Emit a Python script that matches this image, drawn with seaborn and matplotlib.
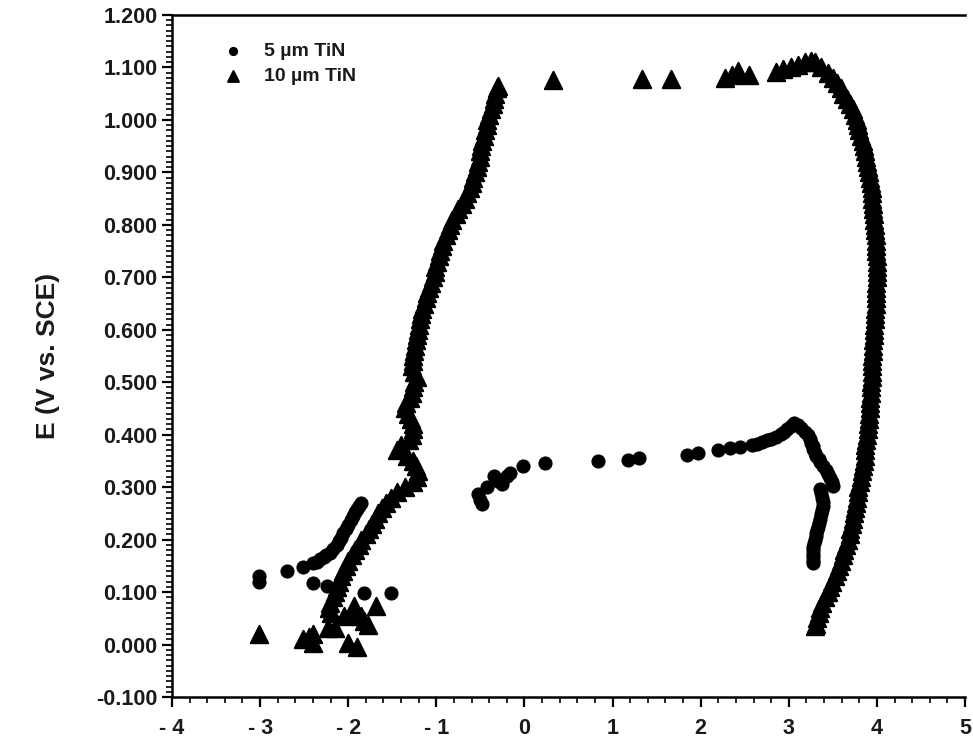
import matplotlib
matplotlib.use("Agg")
import matplotlib.pyplot as plt
from matplotlib.ticker import MultipleLocator, FixedLocator, FixedFormatter
import seaborn as sns
import pandas as pd

# ---------------- data ----------------
# 5 um TiN (filled dots): (log current density, E in V vs SCE)
tin5_points = [
    (-3.01, 0.120), (-3.01, 0.130), (-2.70, 0.141), (-2.51, 0.147),
    (-2.40, 0.155), (-2.36, 0.158), (-2.32, 0.163), (-2.28, 0.166), (-2.25, 0.170), (-2.21, 0.175),
    (-2.17, 0.182), (-2.13, 0.189), (-2.10, 0.197), (-2.08, 0.204), (-2.06, 0.212), (-2.03, 0.220),
    (-2.00, 0.228), (-1.97, 0.237), (-1.95, 0.245), (-1.92, 0.252), (-1.90, 0.258), (-1.88, 0.264),
    (-1.86, 0.270),
    (-2.40, 0.117), (-2.24, 0.111), (-1.82, 0.098), (-1.51, 0.098),
    (-0.53, 0.287), (-0.50, 0.275), (-0.48, 0.268), (-0.42, 0.300), (-0.35, 0.321), (-0.30, 0.312),
    (-0.25, 0.306), (-0.20, 0.322), (-0.16, 0.327), (-0.02, 0.340), (0.23, 0.346), (0.84, 0.350),
    (1.17, 0.352), (1.30, 0.356), (1.84, 0.361), (1.97, 0.365), (2.20, 0.371), (2.33, 0.375),
    (2.45, 0.377), (2.58, 0.380), (2.64, 0.383), (2.70, 0.386), (2.75, 0.389), (2.80, 0.392),
    (2.86, 0.396), (2.91, 0.401), (2.95, 0.406), (2.98, 0.411), (3.02, 0.417), (3.06, 0.423),
    (3.10, 0.418), (3.14, 0.412), (3.18, 0.406), (3.22, 0.400), (3.24, 0.392), (3.25, 0.385),
    (3.27, 0.378), (3.28, 0.372), (3.30, 0.366), (3.31, 0.360), (3.34, 0.353), (3.36, 0.347),
    (3.39, 0.340), (3.42, 0.333), (3.45, 0.325), (3.47, 0.318), (3.49, 0.310), (3.50, 0.302),
    (3.36, 0.296), (3.37, 0.288), (3.38, 0.280), (3.39, 0.272), (3.39, 0.264), (3.38, 0.256),
    (3.37, 0.248), (3.36, 0.240), (3.34, 0.231), (3.33, 0.224), (3.32, 0.218), (3.31, 0.212),
    (3.31, 0.206), (3.30, 0.199), (3.29, 0.193), (3.28, 0.186), (3.28, 0.180), (3.27, 0.173),
    (3.27, 0.166), (3.27, 0.160), (3.27, 0.155),
]

# 10 um TiN (triangles)
tin10_points = [
    # scattered cathodic points
    (-3.01, 0.021), (-2.51, 0.010), (-2.45, 0.015), (-2.40, 0.021), (-2.40, 0.002), (-2.23, 0.031),
    (-2.15, 0.031), (-2.00, 0.002), (-1.90, -0.004), (-1.94, 0.073), (-1.69, 0.073), (-1.78, 0.038),
    (-1.82, 0.045), (-1.86, 0.054), (-1.95, 0.060), (-2.05, 0.055),
    # anodic branch up to breakdown
    (-2.20, 0.06), (-2.22, 0.07), (-2.21, 0.08), (-2.17, 0.09), (-2.15, 0.10), (-2.13, 0.11),
    (-2.11, 0.12), (-2.08, 0.13), (-2.06, 0.14), (-2.03, 0.15), (-2.00, 0.16), (-1.96, 0.17),
    (-1.92, 0.18), (-1.88, 0.19), (-1.85, 0.20), (-1.80, 0.21), (-1.76, 0.22), (-1.73, 0.23),
    (-1.70, 0.24), (-1.66, 0.25), (-1.62, 0.26), (-1.57, 0.27), (-1.52, 0.28), (-1.45, 0.29),
    (-1.36, 0.30), (-1.27, 0.31), (-1.22, 0.32), (-1.21, 0.33), (-1.23, 0.34), (-1.26, 0.35),
    (-1.33, 0.36), (-1.45, 0.37), (-1.40, 0.38), (-1.31, 0.39), (-1.28, 0.40), (-1.27, 0.41),
    (-1.26, 0.42), (-1.29, 0.43), (-1.32, 0.44), (-1.36, 0.45), (-1.34, 0.46), (-1.30, 0.47),
    (-1.28, 0.48), (-1.27, 0.49), (-1.25, 0.50), (-1.22, 0.51), (-1.25, 0.52), (-1.28, 0.53),
    (-1.27, 0.54), (-1.26, 0.55), (-1.25, 0.56), (-1.24, 0.57), (-1.23, 0.58), (-1.22, 0.59),
    (-1.21, 0.60), (-1.20, 0.61), (-1.19, 0.62), (-1.17, 0.63), (-1.16, 0.64), (-1.14, 0.65),
    (-1.12, 0.66), (-1.11, 0.67), (-1.08, 0.68), (-1.06, 0.69), (-1.04, 0.70), (-1.02, 0.71),
    (-1.01, 0.72), (-0.99, 0.73), (-0.97, 0.74), (-0.96, 0.75), (-0.94, 0.76), (-0.92, 0.77),
    (-0.89, 0.78), (-0.87, 0.79), (-0.84, 0.80), (-0.82, 0.81), (-0.78, 0.82), (-0.75, 0.83),
    (-0.71, 0.84), (-0.68, 0.85), (-0.65, 0.86), (-0.62, 0.87), (-0.60, 0.88), (-0.58, 0.89),
    (-0.56, 0.90), (-0.54, 0.91), (-0.53, 0.92), (-0.51, 0.93), (-0.50, 0.94), (-0.49, 0.95),
    (-0.48, 0.96), (-0.46, 0.97), (-0.45, 0.98), (-0.43, 0.99), (-0.42, 1.00), (-0.40, 1.01),
    (-0.38, 1.02), (-0.36, 1.03), (-0.35, 1.04), (-0.33, 1.05), (-0.31, 1.06), (-0.30, 1.065),
    # transpassive jump
    (0.32, 1.076), (1.33, 1.078), (1.66, 1.078), (2.28, 1.080), (2.36, 1.086), (2.42, 1.094),
    (2.55, 1.085), (2.85, 1.092), (2.94, 1.097), (3.02, 1.100), (3.10, 1.105), (3.18, 1.110),
    (3.25, 1.112),
    # reverse scan
    (3.30, 1.11), (3.37, 1.10), (3.44, 1.09), (3.50, 1.08), (3.55, 1.07), (3.59, 1.06),
    (3.62, 1.05), (3.66, 1.04), (3.70, 1.03), (3.73, 1.02), (3.75, 1.01), (3.77, 1.00),
    (3.79, 0.99), (3.80, 0.98), (3.82, 0.97), (3.84, 0.96), (3.85, 0.95), (3.87, 0.94),
    (3.88, 0.93), (3.89, 0.92), (3.90, 0.91), (3.91, 0.90), (3.92, 0.89), (3.93, 0.88),
    (3.94, 0.87), (3.95, 0.86), (3.95, 0.85), (3.96, 0.84), (3.96, 0.83), (3.97, 0.82),
    (3.97, 0.81), (3.98, 0.80), (3.98, 0.79), (3.99, 0.78), (3.99, 0.77), (3.99, 0.76),
    (3.99, 0.75), (4.00, 0.74), (4.00, 0.73), (4.00, 0.72), (4.00, 0.71), (4.00, 0.70),
    (3.99, 0.69), (3.99, 0.68), (3.99, 0.67), (3.99, 0.66), (3.99, 0.65), (3.98, 0.64),
    (3.98, 0.63), (3.98, 0.62), (3.97, 0.61), (3.97, 0.60), (3.97, 0.59), (3.96, 0.58),
    (3.96, 0.57), (3.96, 0.56), (3.95, 0.55), (3.95, 0.54), (3.94, 0.53), (3.94, 0.52),
    (3.94, 0.51), (3.93, 0.50), (3.93, 0.49), (3.93, 0.48), (3.92, 0.47), (3.92, 0.46),
    (3.92, 0.45), (3.91, 0.44), (3.91, 0.43), (3.90, 0.42), (3.90, 0.41), (3.89, 0.40),
    (3.88, 0.39), (3.87, 0.38), (3.87, 0.37), (3.86, 0.36), (3.85, 0.35), (3.84, 0.34),
    (3.83, 0.33), (3.82, 0.32), (3.81, 0.31), (3.79, 0.30), (3.78, 0.29), (3.77, 0.28),
    (3.76, 0.27), (3.75, 0.26), (3.74, 0.25), (3.73, 0.24), (3.72, 0.23), (3.70, 0.22),
    (3.69, 0.21), (3.67, 0.20), (3.65, 0.19), (3.63, 0.18), (3.61, 0.17), (3.59, 0.16),
    (3.57, 0.15), (3.55, 0.14), (3.52, 0.13), (3.49, 0.12), (3.47, 0.11), (3.44, 0.10),
    (3.41, 0.09), (3.38, 0.08), (3.36, 0.07), (3.34, 0.06), (3.32, 0.05), (3.31, 0.04),
    (3.30, 0.035),
]

series_labels = ["5 \u00b5m TiN", "10 \u00b5m TiN"]
x_ticks = [-4, -3, -2, -1, 0, 1, 2, 3, 4, 5]
x_tick_labels = ["- 4", "- 3", "- 2", "- 1", "0", "1", "2", "3", "4", "5"]
y_ticks = [-0.1, 0.0, 0.1, 0.2, 0.3, 0.4, 0.5, 0.6, 0.7, 0.8, 0.9, 1.0, 1.1, 1.2]
y_tick_labels = ["-0.100", "0.000", "0.100", "0.200", "0.300", "0.400", "0.500", "0.600",
                 "0.700", "0.800", "0.900", "1.000", "1.100", "1.200"]
y_label = "E (V vs. SCE)"

df5 = pd.DataFrame(tin5_points, columns=["x", "E"])
df10 = pd.DataFrame(tin10_points, columns=["x", "E"])

# ---------------- figure ----------------
sns.set_style("ticks")
plt.rcParams["font.family"] = ["Liberation Sans", "DejaVu Sans"]

fig = plt.figure(figsize=(9.73, 7.48), dpi=100)
ax = fig.add_axes([172 / 973, 1 - 697 / 748, (965 - 172) / 973, (697 - 15) / 748])

sns.scatterplot(data=df10, x="x", y="E", ax=ax, marker="^", s=155, color="black",
                edgecolor="black", linewidth=1.5, label=series_labels[1], zorder=3)
sns.scatterplot(data=df5, x="x", y="E", ax=ax, marker="o", s=88, color="black",
                edgecolor="black", linewidth=0.8, label=series_labels[0], zorder=4)

ax.set_xlim(-4, 5)
ax.set_ylim(-0.1, 1.2)
ax.xaxis.set_major_locator(FixedLocator(x_ticks))
ax.xaxis.set_major_formatter(FixedFormatter(x_tick_labels))
ax.yaxis.set_major_locator(FixedLocator(y_ticks))
ax.yaxis.set_major_formatter(FixedFormatter(y_tick_labels))
ax.xaxis.set_minor_locator(MultipleLocator(0.2))
ax.yaxis.set_minor_locator(MultipleLocator(0.01))
ax.tick_params(which="major", direction="out", length=7, width=1.6, labelsize=15.5, colors="black")
ax.tick_params(which="minor", direction="out", length=4, width=1.2, colors="black")
for lab in ax.get_xticklabels() + ax.get_yticklabels():
    lab.set_fontweight("bold")
    lab.set_color("#1a1a1a")
ax.tick_params(axis="x", pad=8)

ax.set_xlabel("")
ax.set_ylabel(y_label, fontsize=19, fontweight="bold", color="#1a1a1a", labelpad=26)

for side in ["left", "bottom", "top"]:
    ax.spines[side].set_linewidth(1.8)
    ax.spines[side].set_color("black")
ax.spines["right"].set_visible(False)

handles, labels = ax.get_legend_handles_labels()
order = [labels.index(series_labels[0]), labels.index(series_labels[1])]
leg = ax.legend([handles[i] for i in order], [labels[i] for i in order],
                loc="upper left", bbox_to_anchor=(0.03, 0.985), frameon=False,
                fontsize=14, handletextpad=0.6, labelspacing=0.35, markerscale=0.62)
for t in leg.get_texts():
    t.set_fontweight("bold")
    t.set_color("#1a1a1a")

fig.savefig("out.png", dpi=100, facecolor="white")
